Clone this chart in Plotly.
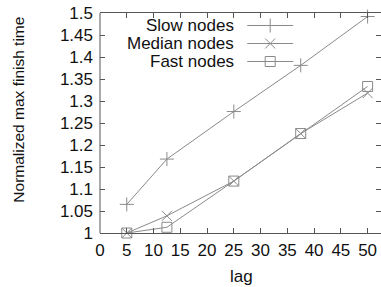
import plotly.graph_objects as go

# ---- data ----
lags = [5, 12.5, 25, 37.5, 50]
slow_nodes = [1.065, 1.168, 1.276, 1.381, 1.492]
median_nodes = [1.0, 1.039, 1.118, 1.226, 1.318]
fast_nodes = [1.0, 1.013, 1.118, 1.226, 1.333]
series_names = ["Slow nodes", "Median nodes", "Fast nodes"]
x_ticks = [0, 5, 10, 15, 20, 25, 30, 35, 40, 45, 50]
y_ticks = [1, 1.05, 1.1, 1.15, 1.2, 1.25, 1.3, 1.35, 1.4, 1.45, 1.5]
y_tick_text = ["1", "1.05", "1.1", "1.15", "1.2", "1.25", "1.3", "1.35", "1.4", "1.45", "1.5"]

# ---- style ----
W, H = 381, 287
ML, MR, MT, MB = 99.5, 0, 13, 54
LINE_COL = "#8a8a8a"
FRAME_COL = "#555555"
TXT = "#111111"
FONT = "Liberation Sans, Arial, sans-serif"
symbols = ["cross-thin-open", "x-thin-open", "square-open"]
sizes = [10, 10, 10]

fig = go.Figure()
for name, vals, sym, sz in zip(series_names, [slow_nodes, median_nodes, fast_nodes], symbols, sizes):
    fig.add_trace(go.Scatter(
        x=lags, y=vals, mode="lines+markers", name=name, showlegend=False,
        line=dict(color=LINE_COL, width=1),
        marker=dict(symbol=sym, size=sz, color=LINE_COL,
                    line=dict(color=LINE_COL, width=1)),
        cliponaxis=False,
    ))

# empty trace so the right-hand (mirror) tick axis is drawn
fig.add_trace(go.Scatter(x=[], y=[], xaxis="x", yaxis="y3", showlegend=False, hoverinfo="skip"))

# ---- custom gnuplot-style legend (text left, sample right) on a pixel-space overlay axis ----
pl, pr = ML, W - MR
pt, pb = MT, H - MB
legend_text_right = 236
legend_sample_x0, legend_sample_x1 = 247, 293
legend_rows = [25.5, 43.5, 61.5]
for name, sym, sz, ry in zip(series_names, symbols, sizes, legend_rows):
    fig.add_trace(go.Scatter(
        x=[legend_sample_x0, legend_sample_x1], y=[ry, ry], mode="lines",
        xaxis="x2", yaxis="y2", showlegend=False, hoverinfo="skip",
        line=dict(color=LINE_COL, width=1)))
    fig.add_trace(go.Scatter(
        x=[(legend_sample_x0 + legend_sample_x1) / 2], y=[ry], mode="markers",
        xaxis="x2", yaxis="y2", showlegend=False, hoverinfo="skip",
        marker=dict(symbol=sym, size=sz, color=LINE_COL,
                    line=dict(color=LINE_COL, width=1))))
    fig.add_annotation(x=legend_text_right, y=ry, xref="x2", yref="y2",
                       text=name, showarrow=False, xanchor="right", yanchor="middle",
                       font=dict(size=17, color=TXT, family=FONT))

axis_font = dict(size=17, color=TXT, family=FONT)
tick_common = dict(ticks="inside", ticklen=5, tickcolor=FRAME_COL, tickwidth=1,
                   showgrid=False, zeroline=False)
fig.update_layout(
    width=W, height=H,
    margin=dict(l=ML, r=MR, t=MT, b=MB, pad=0),
    paper_bgcolor="white", plot_bgcolor="white",
    showlegend=False,
    xaxis=dict(range=[0, 52.5], tickvals=x_ticks, ticktext=[str(t) for t in x_ticks],
               showline=True, linecolor=FRAME_COL, linewidth=1, mirror="ticks",
               tickfont=axis_font, ticklabelstandoff=2, **tick_common),
    yaxis=dict(range=[1, 1.5], tickvals=y_ticks, ticktext=y_tick_text,
               showline=False, tickfont=axis_font, ticklabelstandoff=6, **tick_common),
    yaxis3=dict(range=[1, 1.5], tickvals=y_ticks, overlaying="y", side="right",
                anchor="x", showline=False, showticklabels=False, **tick_common),
    xaxis2=dict(range=[pl, pr], overlaying="x", anchor="y2", visible=False),
    yaxis2=dict(range=[pb, pt], overlaying="y", anchor="x2", visible=False),
)

# left frame line (right border lies outside the visible image)
fig.add_shape(type="line", xref="paper", yref="paper", x0=0, x1=0, y0=0, y1=1,
              line=dict(color=FRAME_COL, width=1))

# axis titles
fig.add_annotation(x=(241 - pl) / (pr - pl), y=(pb - 276) / (pb - pt), xref="paper", yref="paper",
                   text="lag", showarrow=False, xanchor="center", yanchor="middle",
                   font=dict(size=17, color=TXT, family=FONT))
fig.add_annotation(x=(17 - pl) / (pr - pl), y=(pb - 110) / (pb - pt), xref="paper", yref="paper",
                   text="Normalized max finish time", textangle=-90, showarrow=False,
                   xanchor="center", yanchor="middle",
                   font=dict(size=15.5, color=TXT, family=FONT))

fig.write_html("out.html", config={"displayModeBar": False},
               post_script="document.body.style.margin='0';document.body.style.overflow='hidden';")
